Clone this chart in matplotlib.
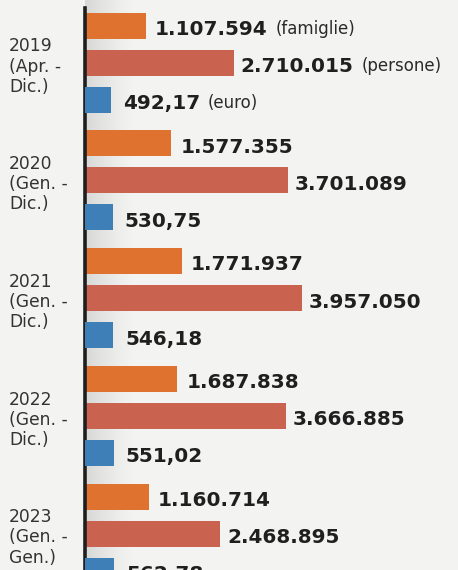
import numpy as np
import matplotlib.pyplot as plt

# dati: nuclei beneficiari, persone coinvolte, importo medio (euro)
periodi = ["2019\n(Apr. -\nDic.)", "2020\n(Gen. -\nDic.)", "2021\n(Gen. -\nDic.)",
           "2022\n(Gen. -\nDic.)", "2023\n(Gen. -\nGen.)"]
famiglie = [1107594, 1577355, 1771937, 1687838, 1160714]
persone = [2710015, 3701089, 3957050, 3666885, 2468895]
euro = [492.17, 530.75, 546.18, 551.02, 562.78]
suffissi = ["(famiglie)", "(persone)", "(euro)"]

c_fam = "#e0722f"
c_per = "#c9634f"
c_eur = "#3f7fb8"
c_txt = "#1f1f1f"
sfondo = "#f3f3f1"

W, H = 458, 570
x0 = 85
px_mil = 54.8      # pixel per milione
px_eur = 0.052     # pixel per euro

fig = plt.figure(figsize=(W / 100, H / 100), dpi=100)
fig.patch.set_facecolor(sfondo)
ax = fig.add_axes([x0 / W, 0, (W - x0) / W, 1])
ax.set_facecolor("none")
ax2 = ax.twiny()
ax2.set_facecolor("none")

passo = 117.75
y_fam = 25.5 + passo * np.arange(len(periodi))
y_per = y_fam + 37
y_eur = y_fam + 74
h = 26

# ombra grigia vicino all'asse
grad = np.zeros((2, 100, 4))
grad[..., :3] = 0.72
grad[..., 3] = np.linspace(0.55, 0, 100) ** 1.3
ax.imshow(grad, extent=(0, 50 / px_mil * 1e6, H, 0), aspect="auto", zorder=0)

ax.barh(y_fam, famiglie, height=h, color=c_fam, zorder=2)
ax.barh(y_per, persone, height=h, color=c_per, zorder=2)
ax2.barh(y_eur, euro, height=h, color=c_eur, zorder=2)

ax.set_xlim(0, (W - x0) / px_mil * 1e6)
ax2.set_xlim(0, (W - x0) / px_eur)
ax.set_ylim(H, 0)


def etichetta(asse, v, y, testo, suff, gap):
    t = asse.annotate(testo, xy=(v, y), xytext=(gap, -4), textcoords="offset pixels",
                      va="center", ha="left", fontsize=14.4, fontweight="bold", color=c_txt,
                      annotation_clip=False)
    if suff:
        asse.annotate(suff, xy=(1, 0), xycoords=t, xytext=(8, 1), textcoords="offset pixels",
                      va="bottom", ha="left", fontsize=12, color="#2a2a2a")


for i in range(len(periodi)):
    primo = i == 0
    etichetta(ax, famiglie[i], y_fam[i], f"{famiglie[i]:,}".replace(",", "."),
              suffissi[0] if primo else None, 9)
    etichetta(ax, persone[i], y_per[i], f"{persone[i]:,}".replace(",", "."),
              suffissi[1] if primo else None, 7)
    etichetta(ax2, euro[i], y_eur[i], f"{euro[i]:.2f}".replace(".", ","),
              suffissi[2] if primo else None, 12)
    ax.annotate(periodi[i], xy=(0, y_per[i] + 4), xycoords=("axes fraction", "data"),
                xytext=(-x0 + 9, 0), textcoords="offset pixels", va="center", ha="left",
                fontsize=12.3, color="#333333", linespacing=1.15)

for a in (ax, ax2):
    for s in a.spines.values():
        s.set_visible(False)
    a.set_xticks([])
    a.set_yticks([])
ax.spines["left"].set_visible(True)
ax.spines["left"].set_bounds(8, H)
ax.spines["left"].set_linewidth(2.6)
ax.spines["left"].set_color("#1e1e1e")
ax.spines["left"].set_zorder(5)

fig.savefig("out.png", dpi=100, facecolor=sfondo)
